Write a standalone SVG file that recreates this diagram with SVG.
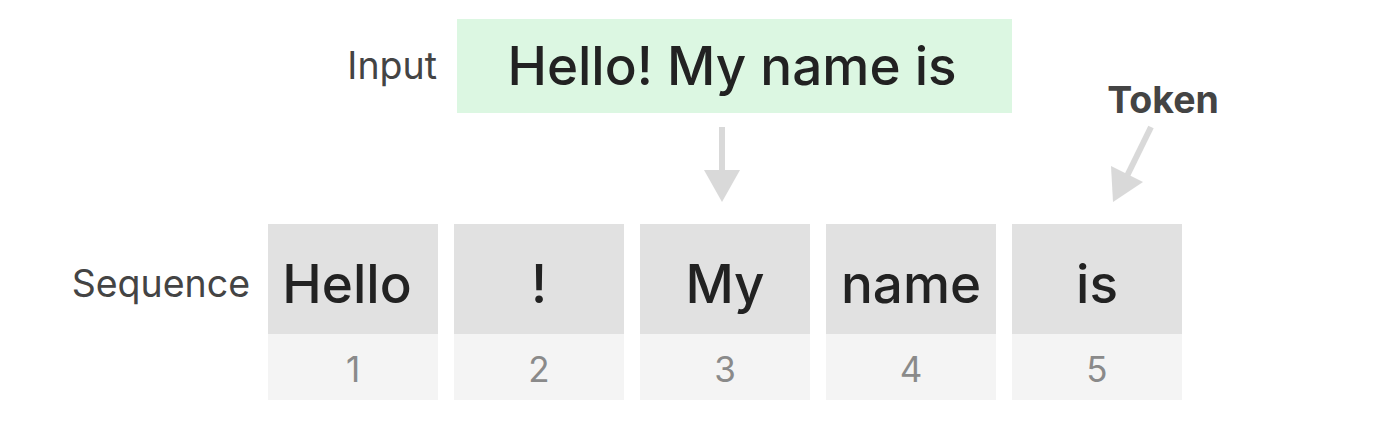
<svg xmlns="http://www.w3.org/2000/svg" width="1400" height="429" viewBox="0 0 1400 429">
<style>
.lbl{font-family:Inter,"Noto Sans",sans-serif;fill:#444;font-size:37.5px}
.tok{font-family:Inter,"Noto Sans",sans-serif;fill:#222;font-size:53px;font-weight:500;text-anchor:middle}
.num{font-family:Inter,"Noto Sans",sans-serif;fill:#8a8a8a;font-size:35px;text-anchor:middle}
.top{fill:#e1e1e1}
.bot{fill:#f4f4f4}
.conn{stroke:#d9d9d9;stroke-width:6;fill:none}
.head{fill:#d9d9d9}
</style>
<rect width="1400" height="429" fill="#fff"/>
<g id="input-label"><text class="lbl" x="437" y="79" text-anchor="end">Input</text></g>
<g id="input">
<rect x="457" y="19" width="555" height="94" fill="#dcf7e2"/>
<text class="tok" x="732" y="85">Hello! My name is</text>
</g>
<g id="token-label"><text class="lbl" x="1163" y="113" text-anchor="middle" font-weight="bold" font-size="36">Token</text></g>
<g id="sequence-label"><text class="lbl" x="250" y="297" text-anchor="end" font-size="37">Sequence</text></g>
<g id="t1"><rect class="top" x="268" y="224" width="170" height="110"/><rect class="bot" x="268" y="334" width="170" height="66"/><text class="tok" x="347" y="303">Hello</text><text class="num" x="353" y="382">1</text></g>
<g id="t2"><rect class="top" x="454" y="224" width="170" height="110"/><rect class="bot" x="454" y="334" width="170" height="66"/><text class="tok" x="539" y="303">!</text><text class="num" x="539" y="382">2</text></g>
<g id="t3"><rect class="top" x="640" y="224" width="170" height="110"/><rect class="bot" x="640" y="334" width="170" height="66"/><text class="tok" x="725" y="303">My</text><text class="num" x="725" y="382">3</text></g>
<g id="t4"><rect class="top" x="826" y="224" width="170" height="110"/><rect class="bot" x="826" y="334" width="170" height="66"/><text class="tok" x="911" y="303">name</text><text class="num" x="911" y="382">4</text></g>
<g id="t5"><rect class="top" x="1012" y="224" width="170" height="110"/><rect class="bot" x="1012" y="334" width="170" height="66"/><text class="tok" x="1097" y="303">is</text><text class="num" x="1097" y="382">5</text></g>
<g id="connectors">
<line class="conn" x1="722" y1="127" x2="722" y2="172"/>
<polygon class="head" points="704,170 740,170 722,202"/>
<line class="conn" x1="1151" y1="127" x2="1127" y2="176"/>
<polygon class="head" points="1111,166 1143,182 1113,202"/>
</g>
</svg>
